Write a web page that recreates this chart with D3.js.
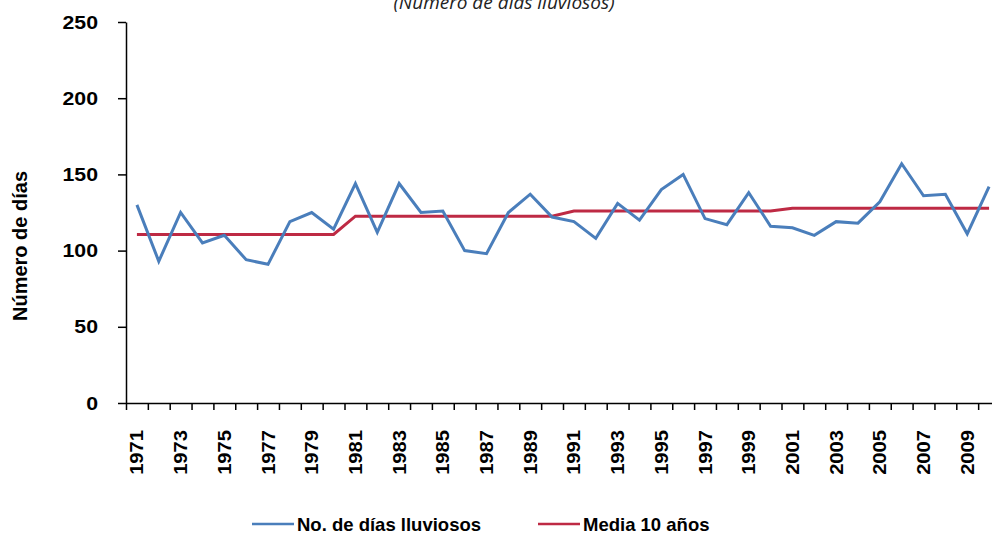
<!DOCTYPE html>
<html>
<head>
<meta charset="utf-8">
<script src="https://cdn.jsdelivr.net/npm/d3@7"></script>
<style>
	body { margin: 0; background: #fff; }
	svg { display: block; }
	.tick text, .lab { font-family: "Liberation Sans", Arial, sans-serif; font-weight: bold; fill: #000; }
</style>
</head>
<body>
<script>
// días lluviosos por año, 1971-2010
const years = d3.range(1971, 2011);
const rainyDays = [130, 93, 125, 105, 110, 94, 91, 119, 125, 114,
	144, 112, 144, 125, 126, 100, 98, 125, 137, 122,
	119, 108, 131, 120, 140, 150, 121, 117, 138, 116,
	115, 110, 119, 118, 132, 157, 136, 137, 111, 142];
const decadeMean = [110.6, 110.6, 110.6, 110.6, 110.6, 110.6, 110.6, 110.6, 110.6, 110.6,
	122.6, 122.6, 122.6, 122.6, 122.6, 122.6, 122.6, 122.6, 122.6, 122.6,
	126, 126, 126, 126, 126, 126, 126, 126, 126, 126,
	127.8, 127.8, 127.8, 127.8, 127.8, 127.8, 127.8, 127.8, 127.8, 127.8];
const yTicks = [0, 50, 100, 150, 200, 250];
const seriesNames = ['No. de días lluviosos', 'Media 10 años'];

const width = 992;
const height = 536;
const margin = { top: 22, left: 126, bottom: 133 };
const plotW = 874; // the plot runs a bit past the right edge
const stretch = 1.12; // the numbers are drawn wide

const svg = d3.select('body').append('svg')
	.attr('width', width)
	.attr('height', height);

const x = d3.scaleBand()
	.domain(years)
	.range([margin.left, margin.left + plotW]);

const xEdge = d3.scaleLinear()
	.domain([0, years.length])
	.range([margin.left, margin.left + plotW]);

const y = d3.scaleLinear()
	.domain([0, 250])
	.range([height - margin.bottom, margin.top]);

const cx = d => x(d) + x.bandwidth() / 2;

// title, cut at the top
svg.append('text')
	.attr('x', 504)
	.attr('y', 9)
	.attr('text-anchor', 'middle')
	.style('font-family', '"Open Sans", sans-serif')
	.style('font-style', 'italic')
	.style('font-size', '19px')
	.style('fill', '#222')
	.text('(Número de días lluviosos)');

// y axis
const yAxis = svg.append('g')
	.attr('transform', `translate(${margin.left},0)`)
	.call(d3.axisLeft(y).tickValues(yTicks).tickSize(8).tickSizeOuter(0).tickPadding(21));
yAxis.selectAll('.tick text')
	.style('font-size', '19px')
	.attr('x', -28 / stretch)
	.attr('transform', `scale(${stretch},1)`);
yAxis.selectAll('path, line').attr('stroke', '#000').attr('stroke-width', 1.5);

// x axis (ticks between years)
const xAxis = svg.append('g')
	.attr('transform', `translate(0,${y(0)})`)
	.call(d3.axisBottom(xEdge).tickValues(d3.range(0, years.length + 1)).tickFormat('').tickSize(7).tickSizeOuter(0));
xAxis.selectAll('path, line').attr('stroke', '#000').attr('stroke-width', 1.5);

svg.append('g').selectAll('text')
	.data(years.filter(d => d % 2 === 1))
	.join('text')
	.attr('class', 'lab')
	.attr('transform', d => `translate(${cx(d) + 6.5},430) rotate(-90) scale(1.12,1)`)
	.attr('text-anchor', 'end')
	.style('font-size', '18px')
	.text(d => d);

// y axis title
svg.append('text')
	.attr('class', 'lab')
	.attr('transform', 'translate(27,246) rotate(-90)')
	.attr('text-anchor', 'middle')
	.style('font-size', '20px')
	.text('Número de días');

const line = d3.line()
	.x((d, i) => cx(years[i]))
	.y(d => y(d));

svg.append('path')
	.datum(decadeMean)
	.attr('fill', 'none')
	.attr('stroke', '#be2a44')
	.attr('stroke-width', 3)
	.attr('d', line);

svg.append('path')
	.datum(rainyDays)
	.attr('fill', 'none')
	.attr('stroke', '#4a7ebb')
	.attr('stroke-width', 3)
	.attr('d', line);

// legend
const legend = svg.append('g');
const legendX = [252, 538];
const legendColors = ['#4a7ebb', '#be2a44'];
seriesNames.forEach((name, i) => {
	legend.append('line')
		.attr('x1', legendX[i]).attr('x2', legendX[i] + 42)
		.attr('y1', 524).attr('y2', 524)
		.attr('stroke', legendColors[i])
		.attr('stroke-width', 2.5);
	legend.append('text')
		.attr('class', 'lab')
		.attr('x', legendX[i] + 45)
		.attr('y', 531)
		.style('font-size', '18.5px')
		.text(name);
});
</script>
</body>
</html>
